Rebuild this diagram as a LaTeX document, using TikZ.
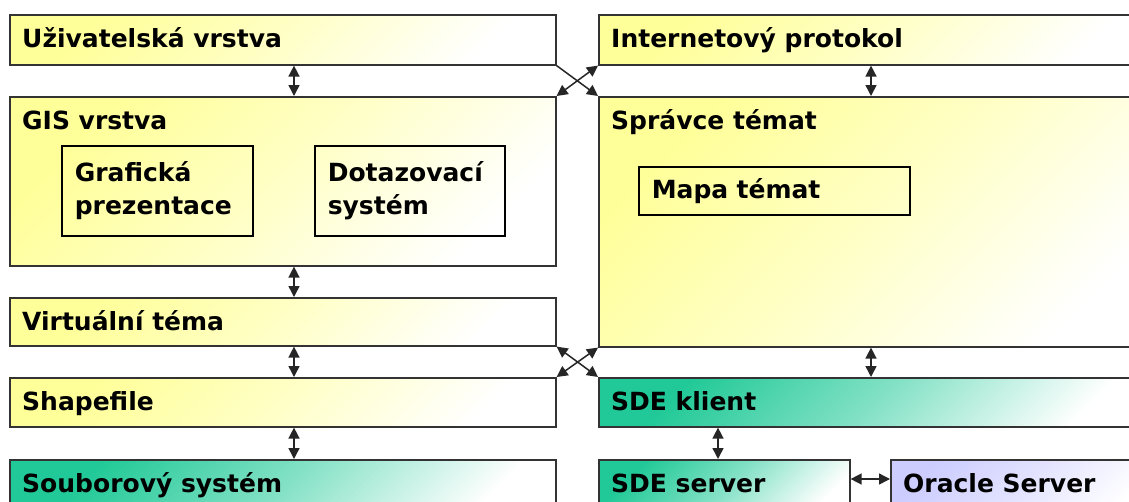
\documentclass[tikz,border=0pt]{standalone}
\usepackage{fontspec}
\setmainfont{DejaVu Sans}
\usetikzlibrary{arrows.meta}

\begin{document}
\begin{tikzpicture}[x=1pt,y=-1pt,
  layer/.style={draw=black!80,line width=1.6pt,anchor=north west,inner sep=0pt,
    top color=#1,bottom color=white,middle color=#1!55,shading angle=45},
  inbox/.style={draw=black,line width=1.6pt,anchor=north west,inner xsep=13pt,
    inner ysep=0pt,align=left,text width=#1,font=\fontsize{25}{33}\selectfont\bfseries},
  ttl/.style={anchor=base west,inner sep=0pt,font=\fontsize{25}{33}\selectfont\bfseries},
  conn/.style={line width=1.5pt,draw=black!85,>={Triangle[length=11pt,width=11pt]}}]
\definecolor{lyel}{HTML}{FFFF99}
\definecolor{lgrn}{HTML}{20C997}
\definecolor{llav}{HTML}{CCCCFF}
\path[use as bounding box] (0,0) rectangle (1129,501);
\clip (0,0) rectangle (1129,501);
\fill[white] (0,0) rectangle (1129,501);

\node[layer=lyel,minimum width=546,minimum height=50] (uziv) at (9,14) {};
\node[layer=lyel,minimum width=546,minimum height=169] (gis) at (9,96) {};
\node[layer=lyel,minimum width=546,minimum height=48] (virt) at (9,297) {};
\node[layer=lyel,minimum width=546,minimum height=49] (shape) at (9,377) {};
\node[layer=lgrn,minimum width=546,minimum height=60] (soub) at (9,459) {};
\node[layer=lyel,minimum width=560,minimum height=50] (inet) at (598,14) {};
\node[layer=lyel,minimum width=560,minimum height=250] (spr) at (598,96) {};
\node[layer=lgrn,minimum width=560,minimum height=49] (sdek) at (598,377) {};
\node[layer=lgrn,minimum width=251,minimum height=60] (sdes) at (598,459) {};
\node[layer=llav,minimum width=260,minimum height=60] (orac) at (890,459) {};

\foreach \lay/\txt in {uziv/Uživatelská vrstva,gis/GIS vrstva,virt/Virtuální téma,
  shape/Shapefile,soub/Souborový systém,inet/Internetový protokol,
  spr/Správce témat,sdek/SDE klient,sdes/SDE server,orac/Oracle Server}
  \node[ttl] (\lay-t) at ([shift={(13,33)}]\lay.north west) {\txt};

\node[inbox=165,minimum height=90] (graf) at (61,145) {Grafická\\prezentace};
\node[inbox=164,minimum height=90] (dotaz) at (314,145) {Dotazovací\\systém};
\node[inbox=245,minimum height=48] (mapa) at (638,166) {Mapa témat};

\foreach \a/\b in {uziv/gis,gis/virt,virt/shape,shape/soub}
  \draw[conn,<->] ([xshift=285]\a.south west) -- ([xshift=285]\b.north west);
\draw[conn,<->] ([xshift=273]inet.south west) -- ([xshift=273]spr.north west);
\draw[conn,<->] ([xshift=273]spr.south west) -- ([xshift=273]sdek.north west);
\draw[conn,<->] ([xshift=120]sdek.south west) -- ([xshift=120]sdes.north west);
\draw[conn,<->] ([yshift=-20]sdes.north east) -- ([yshift=-20]orac.north west);

\draw[conn,->] (uziv.south east) -- (spr.north west);
\draw[conn,<->] (gis.north east) -- (inet.south west);
\draw[conn,<->] (virt.south east) -- (sdek.north west);
\draw[conn,<->] (shape.north east) -- (spr.south west);
\end{tikzpicture}
\end{document}
